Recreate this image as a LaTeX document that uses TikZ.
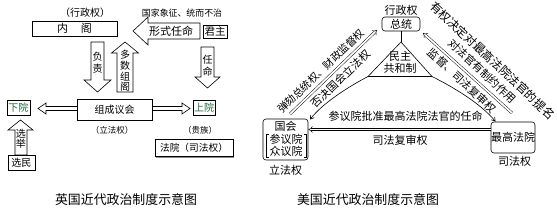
\documentclass[tikz,border=0pt]{standalone}
\usepackage{fontspec}
\setmainfont{Noto Sans CJK SC}
\usetikzlibrary{arrows.meta,shadows}
\newcommand\myfs[2]{\fontsize{#1}{#2}\selectfont}
\definecolor{lgreen}{RGB}{30,105,60}
\begin{document}
\begin{tikzpicture}[x=1pt,y=-1pt,
  lbox/.style={draw, line width=0.6pt, fill=white, inner sep=0pt,
    drop shadow={shadow xshift=0.9pt, shadow yshift=-0.9pt, fill=black!45, opacity=1}},
  blk/.style={draw, line width=0.6pt, fill=white, line join=miter},
  txt/.style={inner sep=0pt, align=center},
  rbox/.style={draw, line width=0.6pt, rounded corners=3pt, inner sep=0pt},
  rdbl/.style={double, double distance=1.8pt, line width=0.45pt, -{Implies}},
  rline/.style={line width=0.6pt},
  barb/.style={-{Straight Barb[length=3.5pt,width=4.5pt]}},
]
\useasboundingbox (0,0) rectangle (557,212);

% ================= left diagram =================
\node[txt, font=\myfs{10}{10}] (xzq) at (85,13) {（行政权）};
\node[txt, font=\myfs{8.9}{8.9}] (gjxz) at (182,13) {国家象征、统而不治};
\node[lbox, minimum width=85pt, minimum height=15pt] (neige) at (74.5,28.5) {};
\node[txt, font=\myfs{11}{11}] (neigetxt) at (neige) {内\hspace{13pt}阁};
\node[lbox, minimum width=24pt, minimum height=12.5pt, font=\myfs{10.5}{10.5}] (junzhu) at (215,32) {君主};

% formal appointment arrow (left)
\draw[blk] (133,31) -- (148,17) -- (148,23) -- (200,23) -- (200,39) -- (148,39) -- (148,45) -- cycle;
\node[txt, font=\myfs{11}{11}] (xsrm) at (171,31.5) {形式任命};

% 负责 (down)
\draw[blk] (91,42) -- (104,42) -- (104,80) -- (111,80) -- (97.5,92) -- (84,80) -- (91,80) -- cycle;
\node[txt, font=\myfs{10}{12}] (fz) at (97.5,63) {负\\责};

% 多数组阁 (up)
\draw[blk] (125,42) -- (138.5,53) -- (133,53) -- (133,92) -- (117,92) -- (117,53) -- (111.5,53) -- cycle;
\node[txt, font=\myfs{10}{10.7}] (dszg) at (125,71) {多\\数\\组\\阁};

% 任命 (down)
\draw[blk] (201,47) -- (214,47) -- (214,77) -- (220,77) -- (207.5,88) -- (195,77) -- (201,77) -- cycle;
\node[txt, font=\myfs{10}{12}] (rm) at (207.5,66) {任\\命};

\node[lbox, minimum width=75pt, minimum height=21pt, font=\myfs{10}{10}] (zc) at (114.5,109.5) {组成议会};
\node[lbox, minimum width=23pt, minimum height=15pt, font=\myfs{10}{10}, text=lgreen] (xy) at (18.5,107.5) {下院};
\node[lbox, minimum width=22pt, minimum height=15pt, font=\myfs{10}{10}, text=lgreen] (sy) at (204,107.5) {上院};

% double block arrows
\draw[blk, fill=none] (77,106.5) -- (46,106.5) -- (46,103) -- (38,108.5) -- (46,114) -- (46,110.5) -- (77,110.5);
\draw[blk, fill=none] (152,106.5) -- (182,106.5) -- (182,103) -- (190,108.5) -- (182,114) -- (182,110.5) -- (152,110.5);

\node[txt, font=\myfs{8.5}{8.5}] (lfql) at (112,130) {（立法权）};
\node[txt, font=\myfs{8.5}{8.5}] (gz) at (200,130) {（贵族）};
\node[lbox, minimum width=78pt, minimum height=17.5pt, font=\myfs{9.7}{9.7}] (fy) at (194,148) {法院（司法权）};

% 选举 (up)
\draw[blk] (20.5,120) -- (33,130) -- (27,130) -- (27,155) -- (15,155) -- (15,130) -- (8,130) -- cycle;
\node[txt, font=\myfs{10}{10.5}] (xj) at (21,138.5) {选\\举};
\node[lbox, minimum width=27pt, minimum height=15pt, font=\myfs{10}{10}] (xm) at (21.5,162.5) {选民};

\node[txt, font=\myfs{12.9}{12.9}] (cap1) at (126,200) {英国近代政治制度示意图};

% ================= right diagram =================
\node[txt, font=\myfs{11}{11}] (xzq2) at (401,10) {行政权};
\node[rbox, minimum width=38pt, minimum height=14pt, font=\myfs{11}{11}] (zt) at (401,24) {总统};
\coordinate (apex) at (401,42);
\coordinate (lc) at (368,76.5);
\coordinate (rc) at (432,76.5);
\draw[rline] (zt.south) -- (apex);
\draw[rline] (lc) -- (apex) -- (rc) -- cycle;
\node[txt, font=\myfs{11}{11.6}] (mz) at (400,62.5) {民主\\共和制};

\node[rbox, minimum width=45pt, minimum height=41pt] (gh) at (285.5,139.5) {};
\node[txt, font=\myfs{11}{11}] (gh1) at (285.5,126.5) {国会};
\node[txt, font=\myfs{11}{11}] (gh2) at (286,139.5) {参议院};
\node[txt, font=\myfs{11}{11}] (gh3) at (286,151.5) {众议院};
\draw[line width=0.45pt] (268.5,134) -- (266.5,134) -- (266.5,157) -- (268.5,157);
\draw[line width=0.45pt] (304,134) -- (306,134) -- (306,157) -- (304,157);
\node[txt, font=\myfs{11}{11}] (lfq) at (285.5,170) {立法权};

\node[rbox, minimum width=34pt, minimum height=31pt, font=\myfs{11}{12}] (zg) at (513,137.5) {最高\\法院};
\node[txt, font=\myfs{11}{11}] (sfq) at (514.5,161.5) {司法权};

% connectors
\coordinate (la1) at (290,114);
\coordinate (la2) at (377,30);
\draw[rdbl] (la1) -- (la2);
\coordinate (ghin) at (310,119.5);
\draw[rline, barb] (lc) .. controls (346,88) and (322,104) .. (ghin);

\coordinate (ra1) at (512,113);
\coordinate (ra2) at (423,33);
\draw[rdbl] (ra1) -- (ra2);
\coordinate (zgin) at (495.5,121.5);
\draw[rline, barb] (rc) .. controls (455,88) and (481,104) .. (zgin);

\coordinate (by) at (0,129.5);
\draw[rdbl] (zg.west |- by) -- (gh.east |- by);

% labels
\node[txt, rotate=44, font=\myfs{10.5}{10.5}] (l1) at (321,71) {弹劾总统权、财政监督权};
\node[txt, rotate=44, font=\myfs{11}{11}] (l2) at (340.5,79) {否决国会立法权};
\node[txt, rotate=-43, font=\myfs{11.8}{11.8}] (l3) at (492.5,60.5) {有权决定对最高法院法官的提名};
\node[txt, rotate=-43, font=\myfs{11}{11}] (l4) at (482.5,71) {对法官有制约作用};
\node[txt, rotate=-43, font=\myfs{11}{11}] (l5) at (462,80.5) {监督、司法复审权};
\node[txt, font=\myfs{11}{11}] (l6) at (405.5,116.5) {参议院批准最高法院法官的任命};
\node[txt, font=\myfs{11}{11}] (l7) at (400,140) {司法复审权};

\node[txt, font=\myfs{12.9}{12.9}] (cap2) at (368,200) {美国近代政治制度示意图};
\end{tikzpicture}
\end{document}
